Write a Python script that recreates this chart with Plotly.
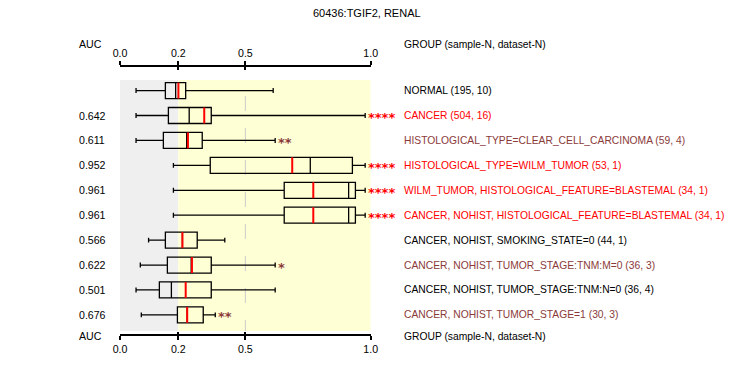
import plotly.graph_objects as go

W, H = 733, 380
title = "60436:TGIF2, RENAL"

groups = [
    "NORMAL (195, 10)",
    "CANCER (504, 16)",
    "HISTOLOGICAL_TYPE=CLEAR_CELL_CARCINOMA (59, 4)",
    "HISTOLOGICAL_TYPE=WILM_TUMOR (53, 1)",
    "WILM_TUMOR, HISTOLOGICAL_FEATURE=BLASTEMAL (34, 1)",
    "CANCER, NOHIST, HISTOLOGICAL_FEATURE=BLASTEMAL (34, 1)",
    "CANCER, NOHIST, SMOKING_STATE=0 (44, 1)",
    "CANCER, NOHIST, TUMOR_STAGE:TNM:M=0 (36, 3)",
    "CANCER, NOHIST, TUMOR_STAGE:TNM:N=0 (36, 4)",
    "CANCER, NOHIST, TUMOR_STAGE=1 (30, 3)",
]
auc_text = ["", "0.642", "0.611", "0.952", "0.961", "0.961", "0.566", "0.622", "0.501", "0.676"]
label_colors = ["#000000", "#FF0000", "#8B3A3A", "#FF0000", "#FF0000", "#FF0000",
                "#000000", "#8B3A3A", "#000000", "#8B3A3A"]
stars = ["", "****", "**", "****", "****", "****", "", "*", "", "**"]

# box statistics on the chart's axis scale
lower = [0.064, 0.064, 0.064, 0.213, 0.213, 0.213, 0.114, 0.081, 0.064, 0.085]
q1 = [0.181, 0.193, 0.173, 0.360, 0.655, 0.655, 0.181, 0.189, 0.157, 0.229]
median = [0.222, 0.276, 0.266, 0.759, 0.912, 0.912, 0.249, 0.284, 0.205, 0.268]
mean = [0.233, 0.336, 0.271, 0.687, 0.771, 0.771, 0.249, 0.287, 0.262, 0.268]
q3 = [0.262, 0.364, 0.328, 0.927, 0.939, 0.939, 0.308, 0.364, 0.364, 0.332]
upper = [0.611, 0.978, 0.619, 0.978, 0.978, 0.978, 0.418, 0.619, 0.619, 0.380]

tick_vals = [0.0, 0.2326, 0.5, 1.0]
tick_text = ["0.0", "0.2", "0.5", "1.0"]
shade_split = 0.2326

FONT = "Liberation Sans"
FS = 10.6
FS_LABEL = 10.3
rows = list(range(len(groups)))

# pixel layout helpers
X0_PX, X1_PX = 120.0, 370.7
ROW0_PX, ROW_STEP = 90.6, 24.92
def ypx(px):  # pixel row -> y data value
    return (px - ROW0_PX) / ROW_STEP
def xp(px):
    return px / W
def yp(px):
    return 1 - px / H

BOX_W = 16 / ROW_STEP

fig = go.Figure()

fig.add_trace(go.Box(
    orientation="h", y=rows, q1=q1, median=median, q3=q3,
    lowerfence=lower, upperfence=upper,
    width=BOX_W, whiskerwidth=0.31, boxpoints=False,
    fillcolor="rgba(0,0,0,0)", line=dict(color="black", width=1.3),
    hoverinfo="skip", showlegend=False,
))

mx, my = [], []
for i, m in enumerate(mean):
    mx += [m, m, None]
    my += [i - BOX_W / 2, i + BOX_W / 2, None]
fig.add_trace(go.Scatter(x=mx, y=my, mode="lines", line=dict(color="#FF0000", width=2),
                         hoverinfo="skip", showlegend=False))

for ax in ["x2", "x3", "x4"]:
    fig.add_trace(go.Scatter(x=[0], y=[-50], xaxis=ax, mode="markers",
                             marker=dict(opacity=0), hoverinfo="skip", showlegend=False))

yr0, yr1 = ypx(80), ypx(331)
fig.add_shape(type="rect", xref="x", yref="y", x0=0, x1=shade_split, y0=yr0, y1=yr1,
              fillcolor="#EFEFEF", line_width=0, layer="below")
fig.add_shape(type="rect", xref="x", yref="y", x0=shade_split, x1=1, y0=yr0, y1=yr1,
              fillcolor="#FFFFD5", line_width=0, layer="below")
fig.add_shape(type="line", xref="x", yref="y", x0=0.5, x1=0.5, y0=ypx(96), y1=yr1,
              line=dict(color="#CCCCCC", width=1, dash="15px,17px"), layer="below")

ann = []
def txt(x, y, s, color="#000000", size=FS, xanchor="left", xref="paper", yref="paper", **kw):
    ann.append(dict(x=x, y=y, text=s, xref=xref, yref=yref, xanchor=xanchor, yanchor="middle",
                    showarrow=False, font=dict(family=FONT, size=size, color=color), **kw))

txt(0.5, yp(13), title, xanchor="center", size=11)
txt(xp(77), yp(44), "AUC")
txt(xp(402), yp(44), "GROUP (sample-N, dataset-N)", size=FS_LABEL)
txt(xp(77), yp(336), "AUC")
txt(xp(402), yp(336), "GROUP (sample-N, dataset-N)", size=FS_LABEL)
for i in rows:
    if auc_text[i]:
        txt(xp(77), i, auc_text[i], yref="y")
    txt(xp(402), i, groups[i], color=label_colors[i], yref="y", size=FS_LABEL)
    if stars[i]:
        ann.append(dict(x=upper[i], y=i, text="<b>" + stars[i] + "</b>", xref="x", yref="y",
                        xanchor="left", yanchor="middle", xshift=1, yshift=-2, showarrow=False,
                        font=dict(family="DejaVu Sans", size=13, color=label_colors[i])))

axis_common = dict(range=[0, 1], domain=[X0_PX / W, X1_PX / W], showgrid=False, zeroline=False,
                   tickvals=tick_vals, ticktext=tick_text, anchor="free", automargin=False,
                   tickfont=dict(family=FONT, size=FS, color="black"), fixedrange=True)
top_pos, bot_pos = yp(66), yp(335)
fig.update_layout(
    width=W, height=H, margin=dict(l=0, r=0, t=0, b=0, pad=0, autoexpand=False),
    paper_bgcolor="white", plot_bgcolor="white",
    font=dict(family=FONT, size=FS, color="black"),
    xaxis=dict(**axis_common, side="top", position=top_pos, showline=True, linecolor="black",
               linewidth=2, ticks="outside", ticklen=4, tickwidth=2, tickcolor="black"),
    xaxis2=dict(**axis_common, overlaying="x", side="bottom", position=bot_pos, showline=True,
                linecolor="black", linewidth=2, ticks="outside", ticklen=4, tickwidth=2,
                tickcolor="black"),
    xaxis3=dict(**axis_common, overlaying="x", side="top", position=top_pos, showline=False,
                ticks="inside", ticklen=3, tickwidth=2, tickcolor="black", showticklabels=False),
    xaxis4=dict(**axis_common, overlaying="x", side="bottom", position=bot_pos, showline=False,
                ticks="inside", ticklen=3, tickwidth=2, tickcolor="black", showticklabels=False),
    yaxis=dict(range=[ypx(H), ypx(0)], domain=[0, 1], visible=False, fixedrange=True,
               automargin=False),
    annotations=ann,
    showlegend=False,
)

fig.write_html(
    "out.html",
    config={"displayModeBar": False},
    post_script="document.body.style.margin='0';document.body.style.padding='0';"
                "document.body.style.overflow='hidden';",
)
